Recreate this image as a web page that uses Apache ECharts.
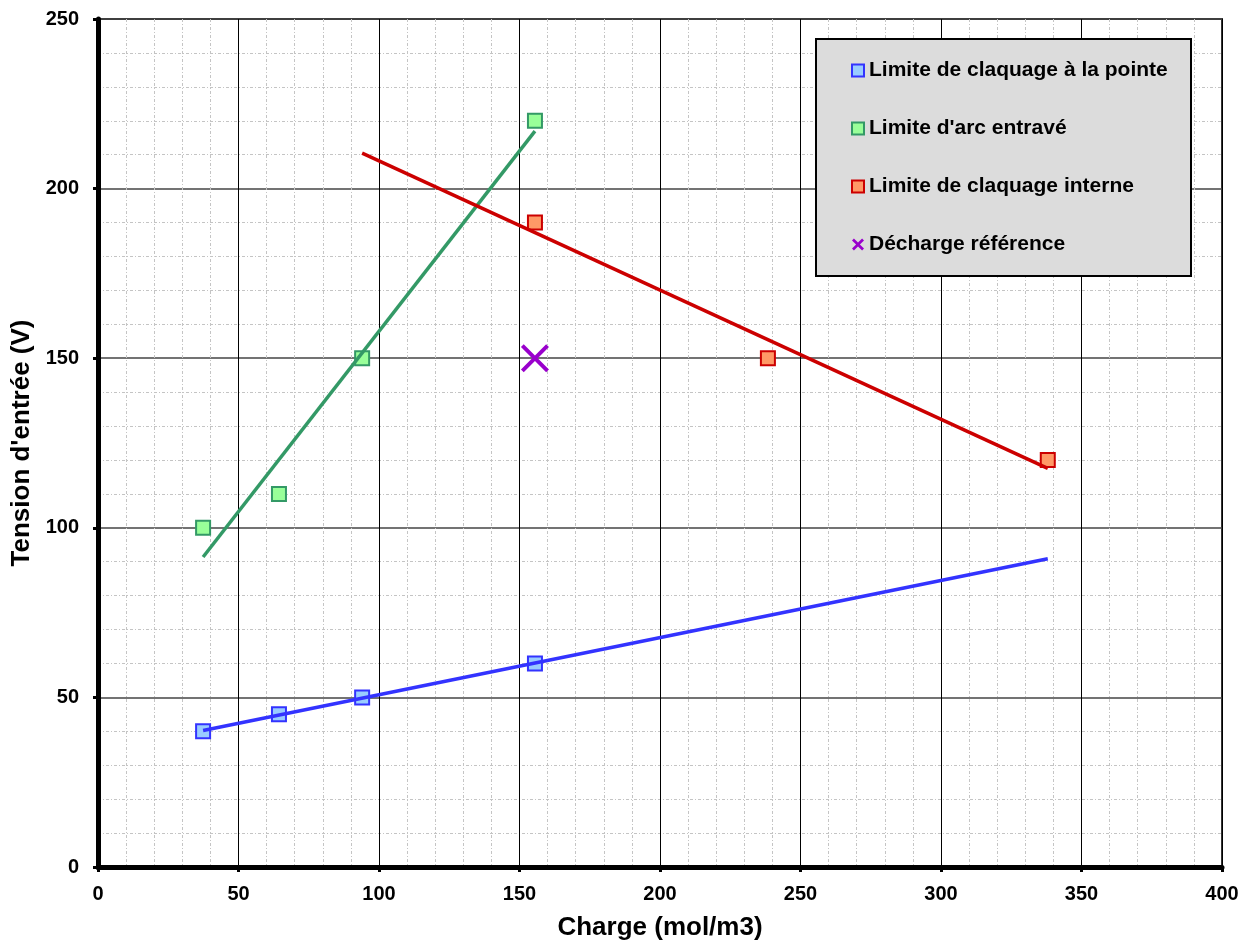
<!DOCTYPE html>
<html>
<head>
<meta charset="utf-8">
<script src="https://cdn.jsdelivr.net/npm/echarts@6/dist/echarts.min.js"></script>
<style>html,body{margin:0;padding:0;background:#fff}#c{width:1251px;height:940px}</style>
</head>
<body>
<div id="c"></div>
<script>
// ---- data ----
const seriesNames = ["Limite de claquage à la pointe", "Limite d'arc entravé", "Limite de claquage interne", "Décharge référence"];
const pointeX = [37.4, 64.4, 94, 155.5];
const pointeY = [40, 45, 50, 60];
const arcX = [37.4, 64.4, 94, 155.5];
const arcY = [100, 110, 150, 220];
const interneX = [155.5, 238.4, 338];
const interneY = [190, 150, 120];
const refX = [155.5];
const refY = [150];
// trendline x extents (linear regression of each series)
const pointeTrendRange = [37.4, 338];
const arcTrendRange = [37.4, 155.5];
const interneTrendRange = [94, 338];
const xTicks = [0, 50, 100, 150, 200, 250, 300, 350, 400];
const yTicks = [0, 50, 100, 150, 200, 250];

function pairs(xs, ys) { return xs.map((x, i) => [x, ys[i]]); }
function trend(xs, ys, range) {
  const n = xs.length;
  const mx = xs.reduce((a, b) => a + b, 0) / n;
  const my = ys.reduce((a, b) => a + b, 0) / n;
  let sxy = 0, sxx = 0;
  for (let i = 0; i < n; i++) { sxy += (xs[i] - mx) * (ys[i] - my); sxx += (xs[i] - mx) ** 2; }
  const k = sxy / sxx;
  return range.map(x => [x, my + k * (x - mx)]);
}

const FONT = "'Liberation Sans', Arial, sans-serif";
const crossPath = 'path://M0,1 L1,0 L5,4 L9,0 L10,1 L6,5 L10,9 L9,10 L5,6 L1,10 L0,9 L4,5 Z';
const crossIcon = 'path://M0,1.6 L1.6,0 L5,3.4 L8.4,0 L10,1.6 L6.6,5 L10,8.4 L8.4,10 L5,6.6 L1.6,10 L0,8.4 L3.4,5 Z';

const chart = echarts.init(document.getElementById('c'), null, { renderer: 'canvas' });
const minorLine = { show: true, lineStyle: { color: '#c4c4c4', width: 1, type: [3, 2, 1, 2] } };

chart.setOption({
  animation: false,
  backgroundColor: '#ffffff',
  grid: { left: 98, right: 29, top: 19, bottom: 73, containLabel: false, outerBoundsMode: 'none',
          show: true, borderColor: '#333', borderWidth: 2, backgroundColor: 'transparent' },
  graphic: [{
    type: 'rect', left: 815, top: 38, z: 90,
    shape: { width: 375, height: 237 },
    style: { fill: '#dcdcdc', stroke: '#000', lineWidth: 2 }
  }],
  legend: {
    z: 100,
    left: 851, top: 60, padding: 0,
    orient: 'vertical',
    itemWidth: 12, itemHeight: 12, itemGap: 37,
    textStyle: { fontFamily: FONT, fontWeight: 'bold', fontSize: 21, lineHeight: 21, color: '#000' },
    data: [
      { name: seriesNames[0], icon: 'rect' },
      { name: seriesNames[1], icon: 'rect' },
      { name: seriesNames[2], icon: 'rect' },
      { name: seriesNames[3], icon: crossIcon }
    ]
  },
  xAxis: {
    type: 'value', min: xTicks[0], max: xTicks[xTicks.length - 1], interval: 50,
    name: 'Charge (mol/m3)', nameLocation: 'middle', nameGap: 48,
    nameTextStyle: { fontFamily: FONT, fontWeight: 'bold', fontSize: 26, color: '#000' },
    axisLine: { show: true, lineStyle: { color: '#000', width: 5 } },
    axisTick: { show: true, length: 5, lineStyle: { color: '#000', width: 3 } },
    axisLabel: { fontFamily: FONT, fontWeight: 'bold', fontSize: 20, color: '#000', margin: 17 },
    splitLine: { show: true, lineStyle: { color: '#000', width: 1 } },
    minorTick: { show: false, splitNumber: 5 },
    minorSplitLine: minorLine
  },
  yAxis: {
    type: 'value', min: yTicks[0], max: yTicks[yTicks.length - 1], interval: 50,
    name: "Tension d'entrée (V)", nameLocation: 'middle', nameGap: 62,
    nameTextStyle: { fontFamily: FONT, fontWeight: 'bold', fontSize: 26, color: '#000' },
    axisLine: { show: true, lineStyle: { color: '#000', width: 5 } },
    axisTick: { show: true, length: 5, lineStyle: { color: '#000', width: 3 } },
    axisLabel: { fontFamily: FONT, fontWeight: 'bold', fontSize: 20, color: '#000', margin: 19 },
    splitLine: { show: true, lineStyle: { color: '#444', width: 1.5 } },
    minorTick: { show: false, splitNumber: 5 },
    minorSplitLine: minorLine
  },
  series: [
    { name: seriesNames[0], type: 'scatter', symbol: 'rect', symbolSize: 14, z: 3,
      itemStyle: { color: '#99ccff', borderColor: '#3333ff', borderWidth: 2, opacity: 1 },
      data: pairs(pointeX, pointeY) },
    { name: seriesNames[1], type: 'scatter', symbol: 'rect', symbolSize: 14, z: 3,
      itemStyle: { color: '#99ff99', borderColor: '#339966', borderWidth: 2, opacity: 1 },
      data: pairs(arcX, arcY) },
    { name: seriesNames[2], type: 'scatter', symbol: 'rect', symbolSize: 14, z: 3,
      itemStyle: { color: '#ff9966', borderColor: '#cc0000', borderWidth: 2, opacity: 1 },
      data: pairs(interneX, interneY) },
    { name: seriesNames[3], type: 'scatter', symbol: crossPath, symbolSize: 28, z: 3,
      itemStyle: { color: '#9900cc', opacity: 1 },
      data: pairs(refX, refY) },
    { name: 'trend0', type: 'line', symbol: 'none', z: 4, silent: true,
      lineStyle: { color: '#3333ff', width: 3.5 }, data: trend(pointeX, pointeY, pointeTrendRange) },
    { name: 'trend1', type: 'line', symbol: 'none', z: 4, silent: true,
      lineStyle: { color: '#339966', width: 3.5 }, data: trend(arcX, arcY, arcTrendRange) },
    { name: 'trend2', type: 'line', symbol: 'none', z: 4, silent: true,
      lineStyle: { color: '#cc0000', width: 3.5 }, data: trend(interneX, interneY, interneTrendRange) }
  ]
});
</script>
</body>
</html>
